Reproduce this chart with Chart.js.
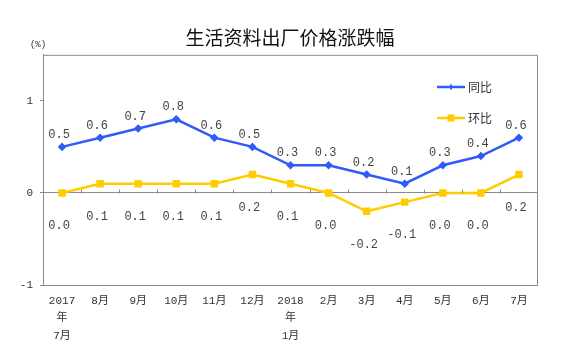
<!DOCTYPE html>
<html>
<head>
<meta charset="utf-8">
<script src="https://cdn.jsdelivr.net/npm/chart.js@4/dist/chart.umd.min.js"></script>
<style>
  html, body { margin: 0; padding: 0; background: #fff; }
  #wrap { width: 580px; height: 358px; }
</style>
</head>
<body>
<div id="wrap"><canvas id="chart" width="580" height="358"></canvas></div>
<script>
// data
var months = [
  ['2017', '年', '7月'], '8月', '9月', '10月', '11月', '12月',
  ['2018', '年', '1月'], '2月', '3月', '4月', '5月', '6月', '7月'
];
var yoy = [0.5, 0.6, 0.7, 0.8, 0.6, 0.5, 0.3, 0.3, 0.2, 0.1, 0.3, 0.4, 0.6]; // 同比
var mom = [0.0, 0.1, 0.1, 0.1, 0.1, 0.2, 0.1, 0.0, -0.2, -0.1, 0.0, 0.0, 0.2]; // 环比
var yTicks = [-1, 0, 1];

var blue = '#2f5cf8';
var yellow = '#ffcc00';
var axisGray = '#8a8a8a';
var textGray = '#333';
var numFont = "'Liberation Mono', monospace";

// border box, small ticks on the zero line, "(%)", point labels and legend
var decor = {
  id: 'decor',
  afterDatasetsDraw: function (chart) {
    var ctx = chart.ctx;
    var area = chart.chartArea;
    var x = chart.scales.x;
    var y = chart.scales.y;
    ctx.save();

    ctx.strokeStyle = axisGray;
    ctx.lineWidth = 1;
    ctx.strokeRect(area.left + 0.5, area.top + 0.5, area.right - area.left - 1, area.bottom - area.top);

    // ticks on the zero line, between categories
    var y0 = Math.round(y.getPixelForValue(0)) + 0.5;
    ctx.beginPath();
    for (var i = 1; i < months.length; i++) {
      var bx = Math.round((x.getPixelForValue(i - 1) + x.getPixelForValue(i)) / 2) + 0.5;
      ctx.moveTo(bx, y0);
      ctx.lineTo(bx, y0 - 4);
    }
    ctx.stroke();

    ctx.fillStyle = textGray;
    ctx.font = "9px " + numFont;
    ctx.textAlign = 'center';
    ctx.textBaseline = 'middle';
    ctx.fillText('(%)', 38, 45);

    // value labels
    ctx.font = "12px " + numFont;
    ctx.fillStyle = '#444';
    chart.data.datasets.forEach(function (ds, di) {
      var meta = chart.getDatasetMeta(di);
      meta.data.forEach(function (pt, j) {
        var dy = di === 0 ? -12 : 33;
        ctx.fillText(ds.data[j].toFixed(1), pt.x - 3, pt.y + dy);
      });
    });

    // legend
    ctx.font = "12px 'Noto Sans CJK SC', sans-serif";
    ctx.textAlign = 'left';
    chart.data.datasets.forEach(function (ds, di) {
      var ly = 87 + di * 31;
      ctx.strokeStyle = ds.borderColor;
      ctx.lineWidth = 2.5;
      ctx.beginPath();
      ctx.moveTo(437, ly);
      ctx.lineTo(465, ly);
      ctx.stroke();
      ctx.fillStyle = ds.borderColor;
      var r = ds.pointRadius;
      if (di === 0) {
        ctx.fillRect(451 - 1, ly - r, 2, 2 * r);
      } else {
        ctx.fillRect(451 - r, ly - r, 2 * r, 2 * r);
      }
      ctx.fillStyle = textGray;
      ctx.fillText(ds.label, 468, ly);
    });

    ctx.restore();
  }
};

new Chart(document.getElementById('chart'), {
  type: 'line',
  data: {
    labels: months,
    datasets: [
      {
        label: '同比',
        data: yoy,
        borderColor: blue,
        backgroundColor: blue,
        borderWidth: 2.5,
        pointStyle: 'rectRot',
        pointRadius: 2.5,
        tension: 0
      },
      {
        label: '环比',
        data: mom,
        borderColor: yellow,
        backgroundColor: yellow,
        borderWidth: 2.5,
        pointStyle: 'rect',
        pointRadius: 3.5,
        tension: 0
      }
    ]
  },
  options: {
    responsive: false,
    animation: false,
    plugins: {
      legend: { display: false },
      tooltip: { enabled: false },
      title: {
        display: true,
        text: '生活资料出厂价格涨跌幅',
        color: '#111',
        font: { family: "'Noto Sans CJK SC', sans-serif", size: 19, weight: 'normal' },
        padding: { top: 26.5, bottom: 5.5 }
      }
    },
    scales: {
      x: {
        offset: true,
        grid: { display: false, drawTicks: false },
        border: { display: false },
        ticks: {
          color: textGray,
          font: { family: numFont + ", 'Noto Sans CJK SC'", size: 11, lineHeight: 1.55 },
          padding: 8,
          maxRotation: 0,
          autoSkip: false
        },
        afterFit: function (s) { s.height = 73; }
      },
      y: {
        min: -1,
        max: 1.5,
        afterBuildTicks: function (s) {
          s.ticks = yTicks.map(function (v) { return { value: v }; });
        },
        grid: {
          color: function (c) { return c.tick && c.tick.value === 0 ? axisGray : 'transparent'; },
          tickColor: axisGray,
          tickLength: 3,
          lineWidth: 1
        },
        border: { display: true, color: axisGray, width: 1 },
        ticks: {
          color: textGray,
          font: { family: numFont, size: 11 },
          padding: 7,
          callback: function (v) { return v === -1 ? '-1' : String(v); }
        },
        afterFit: function (s) { s.width = 43; }
      },
      // empty right-hand axis, only reserves the right margin
      yRight: {
        position: 'right',
        min: -1,
        max: 1.5,
        grid: { display: false, drawTicks: false },
        border: { display: false },
        ticks: { display: false },
        afterFit: function (s) { s.width = 42; }
      }
    }
  },
  plugins: [decor]
});
</script>
</body>
</html>
